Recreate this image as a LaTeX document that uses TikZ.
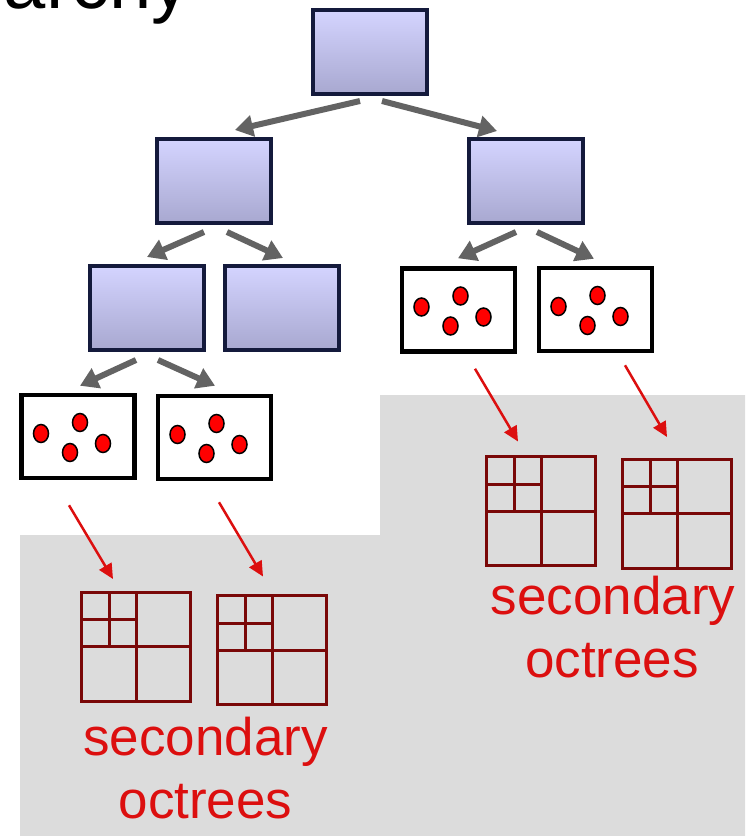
\documentclass[tikz,border=0pt]{standalone}
\usepackage{fontspec}
\setmainfont{Liberation Sans}
\usetikzlibrary{arrows.meta,calc}
\definecolor{boxtop}{RGB}{212,212,255}
\definecolor{boxbot}{RGB}{168,168,208}
\definecolor{boxrim}{RGB}{20,26,60}
\definecolor{treegray}{RGB}{99,99,99}
\definecolor{octred}{RGB}{122,8,8}
\definecolor{linkred}{RGB}{220,15,15}
\definecolor{panelgray}{RGB}{220,220,220}
\tikzset{
  inner/.style={draw=boxrim,line width=4pt,top color=boxtop,bottom color=boxbot,
    minimum width=114pt,minimum height=84pt},
  leaf/.style={draw=black,line width=4.5pt,fill=white,
    minimum width=113pt,minimum height=83pt},
  dot/.style={fill=red,draw=black,line width=1.5pt},
  treearrow/.style={draw=treegray,line width=6pt,-{Triangle[length=18pt,width=21pt]}},
  linkarrow/.style={draw=linkred,line width=2.5pt,-{Triangle[length=15pt,width=14pt]}},
  qbox/.style={draw=octred,line width=3pt,minimum size=109pt,outer sep=0pt},
  qline/.style={draw=octred,line width=3pt},
  sectext/.style={text=linkred,inner sep=0pt,anchor=base,font=\fontsize{53}{63}\selectfont}
}
\begin{document}
\begin{tikzpicture}[x=1pt,y=-1pt]
\useasboundingbox (0,0) rectangle (745,836);
\clip (0,0) rectangle (745,836);
\fill[panelgray] (20,535) -- (380,535) -- (380,395) -- (745,395) -- (745,836) -- (20,836) -- cycle;
\node[anchor=base east,inner sep=0pt,font=\fontsize{76}{84}\selectfont] (title) at (190,8) {Hierarchy};

\node[inner] (root) at (369.5,52) {};
\node[inner] (lA) at (214,181) {};
\node[inner] (lB) at (525.5,181) {};
\node[inner] (lAA) at (146.5,308) {};
\node[inner] (lAB) at (281.5,308) {};
\node[leaf] (lBA) at (458.5,310) {};
\node[leaf] (lBB) at (595.5,309.5) {};
\node[leaf] (lAAA) at (78,436.5) {};
\node[leaf] (lAAB) at (214.5,437.5) {};

\foreach \b in {lBA,lBB,lAAA,lAAB}{
  \foreach \dx/\dy in {-37/-3,2/-14,-8/16,25/7}{
    \filldraw[dot] ($(\b)+(\dx,\dy)$) ellipse [x radius=7.5pt,y radius=9pt];
  }
}

\draw[treearrow] ($(root.south)+(-9.5,5)$) -- ($(lA.north)+(21,-7)$);
\draw[treearrow] ($(root.south)+(12.5,5)$) -- ($(lB.north)+(-28.5,-6)$);
\draw[treearrow] ($(lA.south)+(-10,7)$) -- ($(lAA.north)+(0.5,-7)$);
\draw[treearrow] ($(lA.south)+(13,7)$) -- ($(lAB.north)+(1.5,-6)$);
\draw[treearrow] ($(lB.south)+(-9.5,7)$) -- ($(lBA.north)+(-0.5,-8)$);
\draw[treearrow] ($(lB.south)+(11.5,7)$) -- ($(lBB.north)+(-1.5,-7)$);
\draw[treearrow] ($(lAA.south)+(-10.5,8)$) -- ($(lAAA.north)+(2,-7)$);
\draw[treearrow] ($(lAA.south)+(11.5,8)$) -- ($(lAAB.north)+(0.5,-8)$);

\node[qbox] (qA) at (136,646.5) {};
\node[qbox] (qB) at (272,650) {};
\node[qbox] (qC) at (541,511) {};
\node[qbox] (qD) at (677,513.5) {};
\foreach \q in {qA,qB,qC,qD}{
  \draw[qline] (\q.north) -- (\q.south) (\q.west) -- (\q.east);
  \draw[qline] ($(\q.north)+(-27,0)$) -- ($(\q.center)+(-27,0)$)
    ($(\q.west)+(0,-27)$) -- ($(\q.center)+(0,-27)$);
}

\draw[linkarrow] ($(lAAA.south)+(-9,25)$) -- ($(qA.north)+(-23,-13)$);
\draw[linkarrow] ($(lAAB.south)+(4.5,21)$) -- ($(qB.north)+(-9,-19)$);
\draw[linkarrow] ($(lBA.south)+(16.5,15)$) -- ($(qC.north)+(-23,-15)$);
\draw[linkarrow] ($(lBB.south)+(29.5,12)$) -- ($(qD.north)+(-10,-22)$);

\node[sectext] (secA) at (205.5,755) {secondary};
\node[sectext] (octA) at (205.5,818) {octrees};
\node[sectext] (secB) at (613,614) {secondary};
\node[sectext] (octB) at (612,677) {octrees};
\end{tikzpicture}
\end{document}
